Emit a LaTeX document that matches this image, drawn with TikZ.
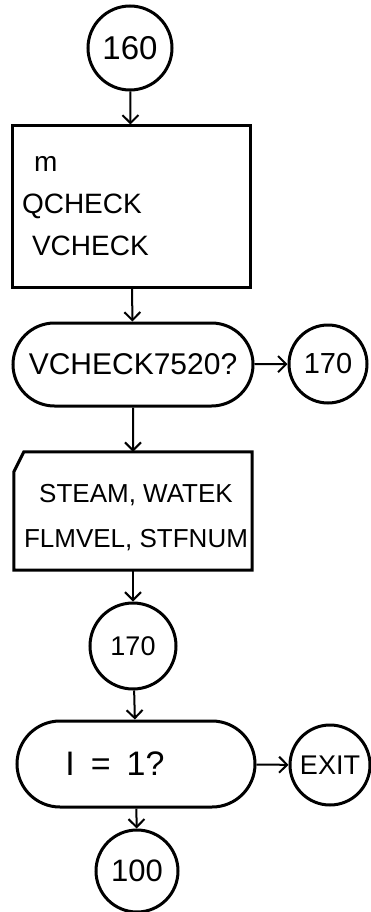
\documentclass[tikz,border=0pt]{standalone}
\usepackage{fontspec}
\setmainfont{Liberation Sans}
\usetikzlibrary{arrows.meta,shapes.misc}
\begin{document}
\begin{tikzpicture}[x=1pt,y=-1pt,
  shapeline/.style={draw=black, line width=3pt},
  conn/.style={draw=black, line width=2pt, -{Straight Barb[length=8pt,width=16pt,line width=2pt]}},
  conncircle/.style={shapeline, circle, inner sep=0pt},
  procbox/.style={shapeline, rectangle, inner sep=0pt},
  termbox/.style={shapeline, rounded rectangle, inner sep=0pt},
  cardbox/.style={rectangle, inner sep=0pt},
]
\useasboundingbox (0,0) rectangle (371,912);

\node[conncircle, minimum size=84pt, font=\fontsize{33}{35}\selectfont] (c160) at (130,48) {160};

\node[procbox, minimum width=238pt, minimum height=161pt, text width=218pt, align=left,
      font=\fontsize{28}{42}\selectfont] (box1) at (131,206.5)
  {\hspace*{12pt}m\\QCHECK\\\hspace*{10pt}VCHECK};

\node[termbox, minimum width=240pt, minimum height=83pt, font=\fontsize{30}{32}\selectfont]
  (dec1) at (133,364.5) {VCHECK7520?};

\node[conncircle, minimum size=78pt, font=\fontsize{29}{31}\selectfont] (c170a) at (328,364) {170};

\node[cardbox, minimum width=238pt, minimum height=118pt, align=center,
      font=\fontsize{26}{45}\selectfont] (card) at (133,511)
  {\strut\hspace*{6pt}STEAM, WATEK\\\hspace*{6pt}FLMVEL, STFNUM};
\draw[shapeline] ([yshift=-20pt]card.north west) -- ([xshift=10pt]card.north west)
  -- (card.north east) -- (card.south east) -- (card.south west) -- cycle;

\node[conncircle, minimum size=86pt, font=\fontsize{27}{29}\selectfont] (c170b) at (133,646) {170};

\node[termbox, minimum width=238pt, minimum height=86pt, font=\fontsize{34}{36}\selectfont]
  (dec2) at (136,764) {I\hspace{16pt}=\hspace{16pt}1?\hspace*{42pt}};

\node[conncircle, minimum size=80pt, font=\fontsize{27}{29}\selectfont] (exit) at (330,765) {EXIT};

\node[conncircle, minimum size=82pt, font=\fontsize{31}{33}\selectfont] (c100) at (137,871) {100};

\draw[conn] (c160) -- (box1);
\draw[conn] (box1) -- (dec1);
\draw[conn] (dec1) -- (c170a);
\draw[conn] (dec1) -- (card);
\draw[conn] (card) -- (c170b);
\draw[conn] (c170b) -- (dec2);
\draw[conn] (dec2) -- (exit);
\draw[conn] (dec2) -- (c100);
\end{tikzpicture}
\end{document}
